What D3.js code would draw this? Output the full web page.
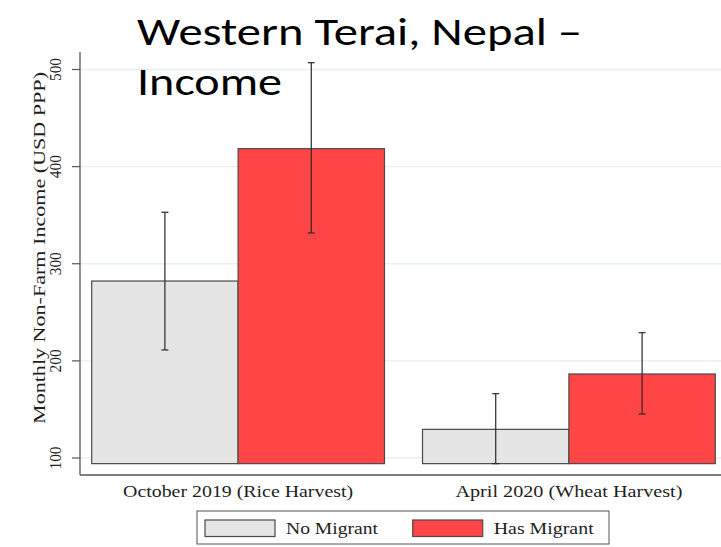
<!DOCTYPE html>
<html>
<head>
<meta charset="utf-8">
<script src="https://cdn.jsdelivr.net/npm/d3@7"></script>
<style>
  html, body { margin: 0; padding: 0; background: #ffffff; }
  svg { display: block; }
</style>
</head>
<body>
<svg id="chart" width="721" height="547"></svg>
<script>
// Harvest seasons and household groups
const seasons = ["October 2019 (Rice Harvest)", "April 2020 (Wheat Harvest)"];
const groups = ["No Migrant", "Has Migrant"];

// Mean monthly non-farm income, one value per season
const noMigrantMean = [282.2, 129.5];
const hasMigrantMean = [418.5, 186.5];

// Confidence interval bounds
const noMigrantLow = [211.2, 94.2];
const noMigrantHigh = [353.0, 166.2];
const hasMigrantLow = [331.7, 145.3];
const hasMigrantHigh = [507.0, 229.0];

const yTicks = [100, 200, 300, 400, 500];
const yTitle = "Monthly Non-Farm Income (USD PPP)";
const titleLines = ["Western Terai, Nepal \u2013", "Income"];

const colors = { "No Migrant": "#e5e5e5", "Has Migrant": "#ff4545" };

const rows = [];
seasons.forEach((s, i) => {
  rows.push({ season: s, group: groups[0], mean: noMigrantMean[i], lo: noMigrantLow[i], hi: noMigrantHigh[i] });
  rows.push({ season: s, group: groups[1], mean: hasMigrantMean[i], lo: hasMigrantLow[i], hi: hasMigrantHigh[i] });
});

const svg = d3.select("#chart");
const serif = "'Liberation Serif', 'DejaVu Serif', serif";
const textColor = "#1e1e1e";

// Plot region
const axisX = 80, axisBottom = 475, axisTop = 52, plotRight = 721;

const y = d3.scaleLinear().domain([100, 500]).range([458, 69.5]);
const barBase = d3.min(rows, d => d.lo);

const x0 = d3.scaleBand().domain(seasons).range([91.7, 715.3]).paddingInner(0.115).paddingOuter(0);
const x1 = d3.scaleBand().domain(groups).range([0, x0.bandwidth()]).padding(0);

// Grid lines
svg.append("g")
  .selectAll("line")
  .data(yTicks)
  .join("line")
  .attr("x1", axisX).attr("x2", plotRight)
  .attr("y1", d => y(d)).attr("y2", d => y(d))
  .attr("stroke", "#e6eff2").attr("stroke-width", 1.4);

// Bars
svg.append("g")
  .selectAll("rect")
  .data(rows)
  .join("rect")
  .attr("x", d => x0(d.season) + x1(d.group))
  .attr("width", x1.bandwidth())
  .attr("y", d => y(d.mean))
  .attr("height", d => y(barBase) - y(d.mean))
  .attr("fill", d => colors[d.group])
  .attr("stroke", "#4a4a4a")
  .attr("stroke-width", 1.2);

// Error bars
const eb = svg.append("g").attr("stroke", "#2a2a2a").attr("stroke-width", 1.2);
rows.forEach(d => {
  const cx = x0(d.season) + x1(d.group) + x1.bandwidth() / 2;
  eb.append("line").attr("x1", cx).attr("x2", cx).attr("y1", y(d.lo)).attr("y2", y(d.hi));
  eb.append("line").attr("x1", cx - 3.5).attr("x2", cx + 3.5).attr("y1", y(d.lo)).attr("y2", y(d.lo));
  eb.append("line").attr("x1", cx - 3.5).attr("x2", cx + 3.5).attr("y1", y(d.hi)).attr("y2", y(d.hi));
});

// Y axis ticks and rotated labels
const yAxis = d3.axisLeft(y).tickValues(yTicks).tickSize(8).tickPadding(6);
const gy = svg.append("g").attr("transform", `translate(${axisX},0)`).call(yAxis);
gy.select(".domain").remove();
gy.selectAll(".tick").attr("transform", null);
gy.selectAll(".tick line")
  .attr("stroke", "#555").attr("stroke-width", 1.2)
  .attr("y1", d => y(d)).attr("y2", d => y(d));
gy.selectAll(".tick text")
  .attr("font-family", serif).attr("font-size", 16).attr("fill", textColor)
  .attr("text-anchor", "middle")
  .attr("transform", d => `translate(-24,${y(d)}) rotate(-90)`)
  .attr("x", 0).attr("y", 0).attr("dy", "0.32em")
  .attr("textLength", 23).attr("lengthAdjust", "spacingAndGlyphs");

svg.append("line")
  .attr("x1", axisX).attr("x2", axisX).attr("y1", axisTop).attr("y2", axisBottom)
  .attr("stroke", "#555").attr("stroke-width", 1.3);

// X axis
svg.append("line")
  .attr("x1", axisX).attr("x2", plotRight).attr("y1", axisBottom).attr("y2", axisBottom)
  .attr("stroke", "#555").attr("stroke-width", 1.5);

svg.append("g")
  .selectAll("text")
  .data(seasons)
  .join("text")
  .attr("x", d => x0(d) + x0.bandwidth() / 2)
  .attr("y", 497)
  .attr("text-anchor", "middle")
  .attr("font-family", serif).attr("font-size", 16.5).attr("fill", textColor)
  .attr("textLength", (d, i) => i === 0 ? 230 : 227)
  .attr("lengthAdjust", "spacingAndGlyphs")
  .text(d => d);

// Y axis title
svg.append("text")
  .attr("transform", `translate(45,${(72 + 424) / 2}) rotate(-90)`)
  .attr("text-anchor", "middle")
  .attr("font-family", serif).attr("font-size", 16.5).attr("fill", textColor)
  .attr("textLength", 352)
  .attr("lengthAdjust", "spacingAndGlyphs")
  .text(yTitle);

// Legend
const lg = svg.append("g");
lg.append("rect").attr("x", 197).attr("y", 511).attr("width", 412).attr("height", 33)
  .attr("fill", "#fff").attr("stroke", "#555").attr("stroke-width", 1);
const legendX = [205, 412.7];
groups.forEach((g, i) => {
  lg.append("rect").attr("x", legendX[i]).attr("y", 520).attr("width", 70).attr("height", 16.5)
    .attr("fill", colors[g]).attr("stroke", "#4a4a4a").attr("stroke-width", 1.2);
  lg.append("text").attr("x", legendX[i] + 81).attr("y", 533.5)
    .attr("font-family", serif).attr("font-size", 16.5).attr("fill", textColor)
    .attr("textLength", i === 0 ? 92 : 100)
    .attr("lengthAdjust", "spacingAndGlyphs")
    .text(g);
});

// Title
const titleFont = "Carlito, Lato, 'Open Sans', sans-serif";
svg.append("text").attr("x", 137).attr("y", 45)
  .attr("font-family", titleFont).attr("font-size", 38).attr("fill", "#000")
  .attr("textLength", 445).attr("lengthAdjust", "spacingAndGlyphs")
  .text(titleLines[0]);
svg.append("text").attr("x", 137).attr("y", 95)
  .attr("font-family", titleFont).attr("font-size", 38).attr("fill", "#000")
  .attr("textLength", 145).attr("lengthAdjust", "spacingAndGlyphs")
  .text(titleLines[1]);
</script>
</body>
</html>
